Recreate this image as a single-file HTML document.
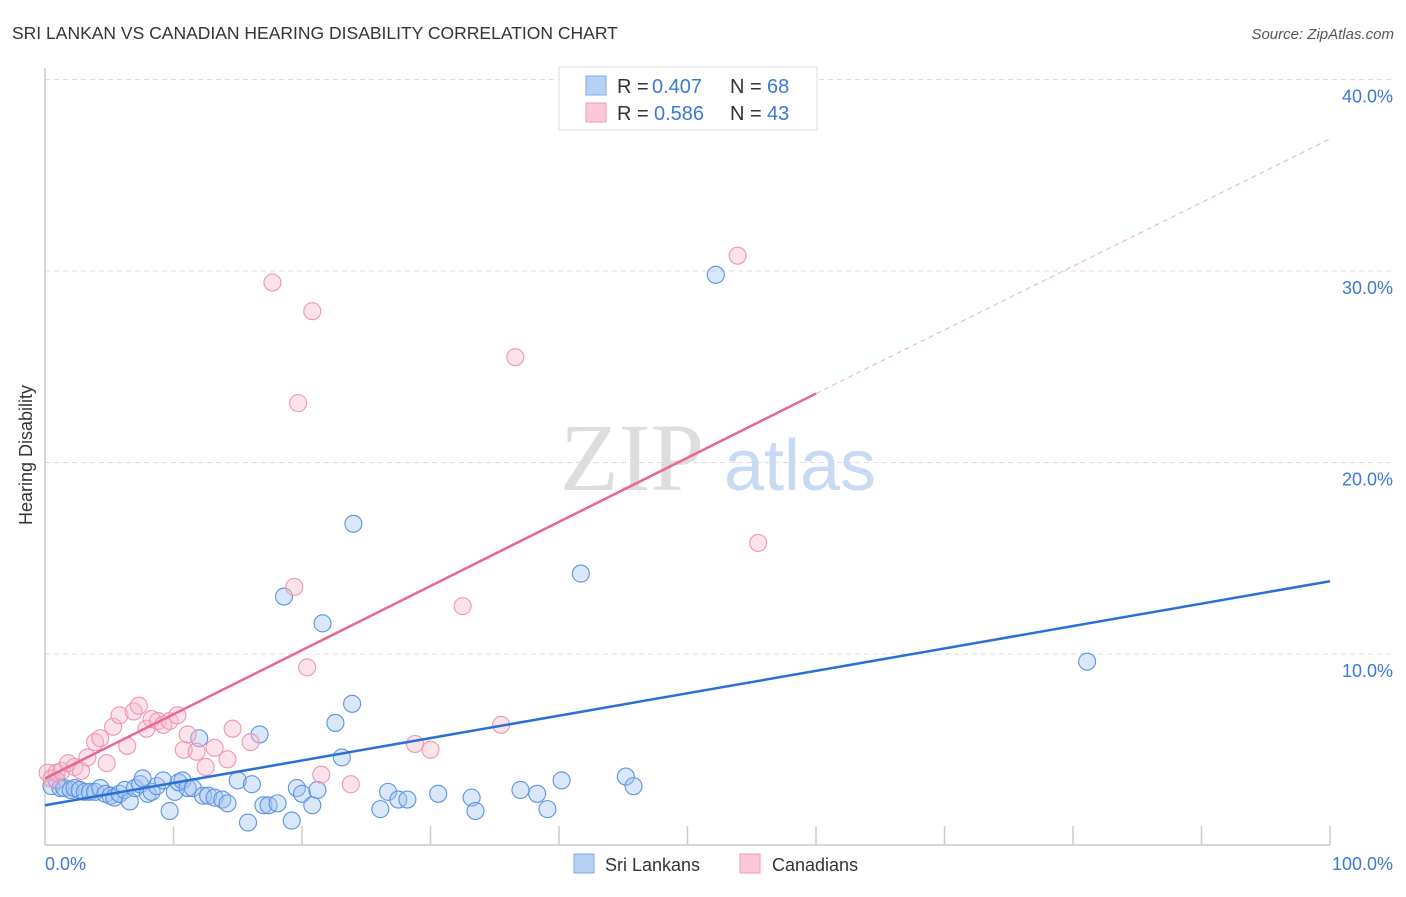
<!DOCTYPE html>
<html><head><meta charset="utf-8"><style>
body{margin:0;background:#fff;font-family:"Liberation Sans",sans-serif}
</style></head><body>
<svg width="1406" height="892" xmlns="http://www.w3.org/2000/svg">
<text x="12" y="39" font-size="17.5" fill="#333">SRI LANKAN VS CANADIAN HEARING DISABILITY CORRELATION CHART</text>
<text x="1394" y="39" font-size="15" fill="#555" font-style="italic" text-anchor="end">Source: ZipAtlas.com</text>
<g id="grid"></g>
<line x1="45" y1="68" x2="45" y2="845" stroke="#ccc" stroke-width="1.5"/>
<line x1="45" y1="845" x2="1330" y2="845" stroke="#ccc" stroke-width="1.5"/>
<text x="32" y="455" font-size="18" fill="#333" text-anchor="middle" transform="rotate(-90 32 455)">Hearing Disability</text>
<g><text x="632" y="490" font-size="96" font-family="Liberation Serif,serif" fill="#ddd" text-anchor="middle">ZIP</text><text x="800" y="490" font-size="72" fill="#c8daf3" text-anchor="middle">atlas</text></g>
<g id="pts"></g>
<g id="lines"></g>
<text x="45" y="870" font-size="18" fill="#3b78d8">0.0%</text>
<text x="1393" y="870" font-size="18" fill="#3b78d8" text-anchor="end">100.0%</text>
<g>
<rect x="559" y="67" width="258" height="63" fill="#fff" stroke="#ddd"/>
<rect x="586" y="76" width="20" height="19" fill="#b7d1f5" stroke="#7fa8e6"/>
<rect x="586" y="103" width="20" height="19" fill="#fbc8d8" stroke="#f09ab5"/>
<text x="617" y="93" font-size="20" fill="#333">R =</text>
<text x="652" y="93" font-size="20" fill="#3b78d8">0.407</text>
<text x="730" y="93" font-size="20" fill="#333">N =</text>
<text x="767" y="93" font-size="20" fill="#3b78d8">68</text>
<text x="617" y="120" font-size="20" fill="#333">R =</text>
<text x="654" y="120" font-size="20" fill="#3b78d8">0.586</text>
<text x="730" y="120" font-size="20" fill="#333">N =</text>
<text x="767" y="120" font-size="20" fill="#3b78d8">43</text>
</g>
<g>
<rect x="574" y="854" width="20" height="19" fill="#b7d1f5" stroke="#7fa8e6"/>
<text x="605" y="871" font-size="18" fill="#333">Sri Lankans</text>
<rect x="740" y="854" width="20" height="19" fill="#fbc8d8" stroke="#f09ab5"/>
<text x="772" y="871" font-size="18" fill="#333">Canadians</text>
</g>
</svg>
<script>
const yTicks=[10,20,30,40];
const yTickLabels=["10.0%","20.0%","30.0%","40.0%"];
const xTicks=[10,20,30,40,50,60,70,80,90,100];
const blueX=[0.5,0.9,1.2,1.5,2,2.3,2.7,3.1,3.5,3.9,4.3,4.7,5.1,5.4,5.8,6.2,6.6,7,7.4,7.6,8,8.3,8.7,9.2,9.7,10.1,10.4,10.7,11.1,11.5,12,12.3,12.7,13.2,13.8,14.2,15,15.8,16.1,16.7,17,17.4,18.1,18.6,19.2,19.6,20,20.8,21.2,21.6,22.6,23.1,23.9,24,26.1,26.7,27.5,28.2,30.6,33.2,33.5,37,38.3,39.1,40.2,41.7,45.2,45.8,52.2,81.1];
const blueY=[3.1,3.4,3,3,2.9,3,2.9,2.8,2.8,2.8,3,2.7,2.6,2.5,2.7,2.9,2.3,3,3.2,3.5,2.7,2.8,3.1,3.4,1.8,2.8,3.3,3.4,3,3,5.6,2.6,2.6,2.5,2.4,2.2,3.4,1.2,3.2,5.8,2.1,2.1,2.2,13,1.3,3,2.7,2.1,2.9,11.6,6.4,4.6,7.4,16.8,1.9,2.8,2.4,2.4,2.7,2.5,1.8,2.9,2.7,1.9,3.4,14.2,3.6,3.1,29.8,9.6];
const pinkX=[0.2,0.5,0.9,1.3,1.8,2.3,2.8,3.3,3.9,4.3,4.8,5.3,5.8,6.4,6.9,7.3,7.9,8.3,8.8,9.2,9.7,10.3,10.8,11.1,11.8,12.5,13.2,14.2,14.6,16,17.7,19.4,19.7,20.4,20.8,21.5,23.8,28.8,30,32.5,35.5,36.6,53.9,55.5];
const pinkY=[3.8,3.5,3.8,3.9,4.3,4.1,3.9,4.6,5.4,5.6,4.3,6.2,6.8,5.2,7,7.3,6.1,6.6,6.5,6.3,6.5,6.8,5,5.8,4.9,4.1,5.1,4.5,6.1,5.4,29.4,13.5,23.1,9.3,27.9,3.7,3.2,5.3,5,12.5,6.3,25.5,30.8,15.8];
const blueLine=[[0,2.1],[100,13.8]];
const pinkSolid=[[0,3.5],[60,23.6]];
const pinkDash=[[60,23.6],[100,36.9]];
const X=v=>45+v*12.85, Y=v=>845.5-v*19.15;
const NS="http://www.w3.org/2000/svg";
const mk=(t,a,p)=>{const e=document.createElementNS(NS,t);for(const k in a)e.setAttribute(k,a[k]);p.appendChild(e);return e;};
const grid=document.getElementById('grid');
yTicks.forEach((t,i)=>{
  const l=mk('line',{x1:45,x2:1393,y1:Y(t),y2:Y(t),stroke:'#ddd','stroke-dasharray':'5,4'},grid);
  
  
  const tx=mk('text',{x:1393,y:Y(t)+23,'font-size':18,fill:'#3b78d8','text-anchor':'end'},grid);
  tx.textContent=yTickLabels[i];
  
  
});
xTicks.forEach(t=>{
  const l=mk('line',{x1:X(t),x2:X(t),y1:826,y2:845,stroke:'#ccc','stroke-width':1.5},grid);
  
  
});
const pts=document.getElementById('pts');
blueX.forEach((x,i)=>{
  const c=mk('circle',{cx:X(x),cy:Y(blueY[i]),r:8.5,fill:'rgba(160,195,240,0.4)',stroke:'#5b93e0','stroke-width':1.1},pts);
  
  
});
pinkX.forEach((x,i)=>{
  const c=mk('circle',{cx:X(x),cy:Y(pinkY[i]),r:8.5,fill:'rgba(248,185,205,0.4)',stroke:'#ef94b2','stroke-width':1.1},pts);
  
  
});
const lines=document.getElementById('lines');
let l=mk('line',{x1:X(blueLine[0][0]),y1:Y(blueLine[0][1]),x2:X(blueLine[1][0]),y2:Y(blueLine[1][1]),stroke:'#2a6fd6','stroke-width':2.5},lines);


l=mk('line',{x1:X(pinkSolid[0][0]),y1:Y(pinkSolid[0][1]),x2:X(pinkSolid[1][0]),y2:Y(pinkSolid[1][1]),stroke:'#e8678f','stroke-width':2.5},lines);


l=mk('line',{x1:X(pinkDash[0][0]),y1:Y(pinkDash[0][1]),x2:X(pinkDash[1][0]),y2:Y(pinkDash[1][1]),stroke:'#f0a7bd','stroke-width':1,'stroke-dasharray':'5,4'},lines);


</script>
</body></html>
